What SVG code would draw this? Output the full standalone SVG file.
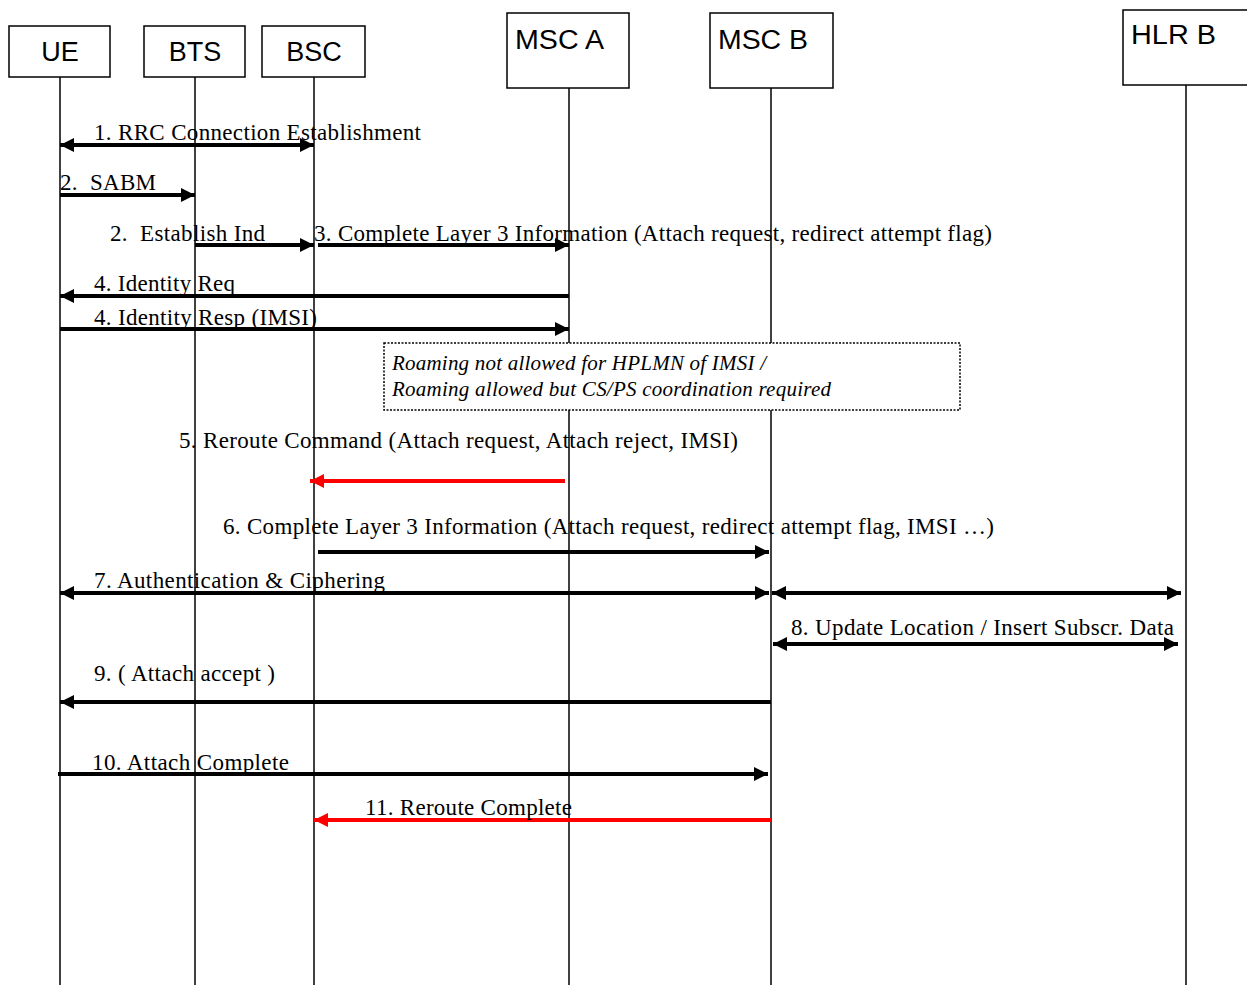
<svg xmlns="http://www.w3.org/2000/svg" width="1247" height="985" viewBox="0 0 1247 985">
<style>
.box{fill:#fff;stroke:#000;stroke-width:1.5}
.ent{font-family:"Liberation Sans",Arial,sans-serif;font-size:27px;fill:#000}
.life{stroke:#000;stroke-width:1.5}
.msg{stroke:#000;stroke-width:4;fill:none}
.red{stroke:#f00;stroke-width:4;fill:none}
.lbl{font-family:"Liberation Serif","Times New Roman",serif;font-size:23px;fill:#000}
.note{font-family:"Liberation Serif","Times New Roman",serif;font-size:21px;font-style:italic;fill:#000}
</style>
<defs>
<marker id="ah" viewBox="0 0 10 10" refX="10" refY="5" markerWidth="16" markerHeight="14" markerUnits="userSpaceOnUse" orient="auto-start-reverse"><path d="M0,0 L10,5 L0,10 z" fill="#000"/></marker>
<marker id="ahr" viewBox="0 0 10 10" refX="10" refY="5" markerWidth="16" markerHeight="14" markerUnits="userSpaceOnUse" orient="auto-start-reverse"><path d="M0,0 L10,5 L0,10 z" fill="#f00"/></marker>
</defs>
<rect width="1247" height="985" fill="#fff"/>
<g id="lifelines">
<line class="life" x1="60" y1="77" x2="60" y2="985"/>
<line class="life" x1="195" y1="77" x2="195" y2="985"/>
<line class="life" x1="314" y1="77" x2="314" y2="985"/>
<line class="life" x1="569" y1="88" x2="569" y2="985"/>
<line class="life" x1="771" y1="88" x2="771" y2="985"/>
<line class="life" x1="1186" y1="85" x2="1186" y2="985"/>
</g>
<g id="UE"><rect class="box" x="9" y="26" width="101" height="51"/><text class="ent" x="60" y="61" text-anchor="middle">UE</text></g>
<g id="BTS"><rect class="box" x="144" y="26" width="101" height="51"/><text class="ent" x="195" y="61" text-anchor="middle">BTS</text></g>
<g id="BSC"><rect class="box" x="262" y="26" width="103" height="51"/><text class="ent" x="314" y="61" text-anchor="middle">BSC</text></g>
<g id="MSCA"><rect class="box" x="507" y="13" width="122" height="75"/><text class="ent" x="515" y="49" textLength="89" lengthAdjust="spacingAndGlyphs">MSC A</text></g>
<g id="MSCB"><rect class="box" x="710" y="13" width="123" height="75"/><text class="ent" x="718" y="49" textLength="90" lengthAdjust="spacingAndGlyphs">MSC B</text></g>
<g id="HLRB"><rect class="box" x="1123" y="10" width="130" height="75"/><text class="ent" x="1131" y="44" textLength="85" lengthAdjust="spacingAndGlyphs">HLR B</text></g>
<g id="note"><rect x="384" y="343" width="576" height="67" fill="#fff" stroke="#000" stroke-width="1.5" stroke-dasharray="2,1.5"/>
<text class="note" x="392" y="370" textLength="374" lengthAdjust="spacing">Roaming not allowed for HPLMN of IMSI /</text>
<text class="note" x="392" y="396" textLength="439" lengthAdjust="spacing">Roaming allowed but CS/PS coordination required</text></g>
<g id="connectors">
<line class="msg" x1="60" y1="145" x2="314" y2="145" marker-start="url(#ah)" marker-end="url(#ah)"/>
<line class="msg" x1="60" y1="195" x2="195" y2="195" marker-end="url(#ah)"/>
<line class="msg" x1="195" y1="245" x2="314" y2="245" marker-end="url(#ah)"/>
<line class="msg" x1="318" y1="245" x2="569" y2="245" marker-end="url(#ah)"/>
<line class="msg" x1="569" y1="296" x2="60" y2="296" marker-end="url(#ah)"/>
<line class="msg" x1="60" y1="329" x2="569" y2="329" marker-end="url(#ah)"/>
<line class="red" x1="565" y1="481" x2="310" y2="481" marker-end="url(#ahr)"/>
<line class="msg" x1="318" y1="552" x2="769" y2="552" marker-end="url(#ah)"/>
<line class="msg" x1="60" y1="593" x2="769" y2="593" marker-start="url(#ah)" marker-end="url(#ah)"/>
<line class="msg" x1="772" y1="593" x2="1181" y2="593" marker-start="url(#ah)" marker-end="url(#ah)"/>
<line class="msg" x1="773" y1="644" x2="1178" y2="644" marker-start="url(#ah)" marker-end="url(#ah)"/>
<line class="msg" x1="771" y1="702" x2="60" y2="702" marker-end="url(#ah)"/>
<line class="msg" x1="58" y1="774" x2="768" y2="774" marker-end="url(#ah)"/>
<line class="red" x1="771" y1="820" x2="314" y2="820" marker-end="url(#ahr)"/>
</g>
<g id="labels">
<text class="lbl" x="94" y="140" textLength="327" lengthAdjust="spacing">1. RRC Connection Establishment</text>
<text class="lbl" x="60" y="190" xml:space="preserve" textLength="96" lengthAdjust="spacing">2.  SABM</text>
<text class="lbl" x="110" y="241" xml:space="preserve" textLength="155" lengthAdjust="spacing">2.  Establish Ind</text>
<text class="lbl" x="314" y="241" textLength="678" lengthAdjust="spacing">3. Complete Layer 3 Information (Attach request, redirect attempt flag)</text>
<text class="lbl" x="94" y="291" textLength="141" lengthAdjust="spacing">4. Identity Req</text>
<text class="lbl" x="94" y="325" textLength="223" lengthAdjust="spacing">4. Identity Resp (IMSI)</text>
<text class="lbl" x="179" y="448" textLength="559" lengthAdjust="spacing">5. Reroute Command (Attach request, Attach reject, IMSI)</text>
<text class="lbl" x="223" y="534" textLength="771" lengthAdjust="spacing">6. Complete Layer 3 Information (Attach request, redirect attempt flag, IMSI …)</text>
<text class="lbl" x="94" y="588" textLength="291" lengthAdjust="spacing">7. Authentication &amp; Ciphering</text>
<text class="lbl" x="791" y="635" textLength="383" lengthAdjust="spacing">8. Update Location / Insert Subscr. Data</text>
<text class="lbl" x="94" y="681" textLength="181" lengthAdjust="spacing">9. ( Attach accept )</text>
<text class="lbl" x="92" y="770" textLength="197" lengthAdjust="spacing">10. Attach Complete</text>
<text class="lbl" x="365" y="815" textLength="207" lengthAdjust="spacing">11. Reroute Complete</text>
</g>
</svg>
